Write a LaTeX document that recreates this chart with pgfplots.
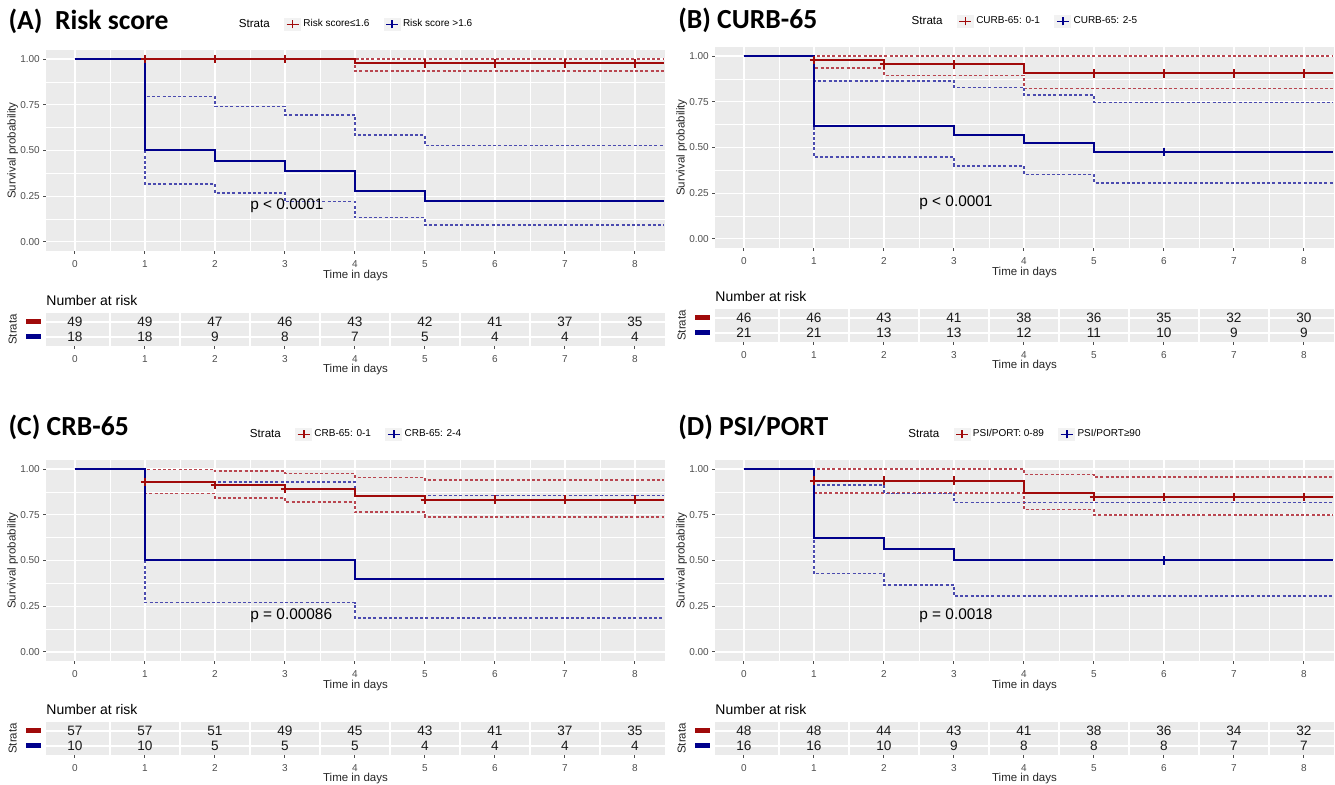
\documentclass[border=0pt]{standalone}
\usepackage{pgfplots}
\pgfplotsset{compat=1.18}
\usepackage{fontspec}
\setmainfont{Liberation Sans}
\newfontfamily\titlefam{Carlito}

\definecolor{ggbg}{RGB}{235,235,235}
\definecolor{keybg}{RGB}{242,242,242}
\definecolor{KMred}{RGB}{160,10,10}
\definecolor{KMblue}{RGB}{0,0,140}
\definecolor{CIred}{RGB}{185,70,80}
\definecolor{CIblue}{RGB}{75,75,175}
\definecolor{tickgray}{RGB}{77,77,77}

\tikzset{pval/.style={anchor=west, font=\fontsize{7.7}{9}\selectfont, inner sep=0pt}}

\pgfplotsset{
  ggbase/.style={
    scale only axis, width=309.5pt,
    xmin=-0.414, xmax=8.43,
    axis background/.style={fill=ggbg},
    axis line style={draw=none},
    tick pos=left, tick align=outside,
    major tick length=1.4pt, minor tick length=0pt,
    tick style={tickgray, line width=0.5pt},
    xtick={0,...,8},
    /pgf/number format/assume math mode=true,
    ticklabel style={font=\fontsize{5}{5.5}\selectfont, text=tickgray},
    label style={font=\fontsize{5.75}{7}\selectfont, text=black!85},
  },
  kmaxis/.style={ggbase, height=100.5pt, ymin=-0.05, ymax=1.05,
    ytick={0,0.25,0.5,0.75,1}, yticklabels={0.00,0.25,0.50,0.75,1.00},
    yticklabel style={xshift=1.8pt},
    minor xtick={0.5,1.5,...,7.5}, minor ytick={0.125,0.375,0.625,0.875},
    grid=both,
    major grid style={white, line width=0.65pt},
    minor grid style={white, line width=0.3pt},
    xlabel={Time in days}, ylabel={Survival probability},
    xlabel style={at={(axis description cs:0.5,-0.12)}, anchor=center},
    ylabel style={at={(axis description cs:-0.054,0.5)}, anchor=center},
    every axis title/.style={anchor=west, inner sep=0pt,
      font=\titlefam\bfseries\fontsize{13.8}{15}\selectfont},
    legend columns=-1,
    legend style={at={(0.5,1)}, anchor=center, yshift=12.75pt, draw=none, fill=none,
      font=\fontsize{5}{6}\selectfont,
      /tikz/every even column/.append style={column sep=6pt},
      nodes={inner xsep=1.2pt, inner ysep=0.5pt}},
  },
  tbaxis/.style={ggbase, height=16.5pt, ymin=0.4, ymax=2.6,
    ytick={1,2},
    yticklabels={\textcolor{KMblue}{\rule{7.5pt}{2.5pt}},\textcolor{KMred}{\rule{7.5pt}{2.5pt}}},
    ytick style={draw=none},
    yticklabel style={xshift=2.6pt},
    minor xtick={0.5,1.5,...,7.5},
    xminorgrids=true, ymajorgrids=true, xmajorgrids=false,
    major grid style={white, line width=0.65pt},
    minor grid style={white, line width=0.65pt},
    xlabel={Time in days}, ylabel={Strata},
    xlabel style={at={(axis description cs:0.5,-0.71)}, anchor=center},
    ylabel style={at={(axis description cs:-0.054,0.5)}, anchor=center},
    title={Number at risk},
    every axis title/.style={at={(axis description cs:0,1.39)}, anchor=west, inner sep=0pt,
      font=\fontsize{7}{8}\selectfont},
  },
  kmred/.style={KMred, const plot, line width=1pt, forget plot},
  kmblue/.style={KMblue, const plot, line width=1pt, forget plot},
  cired/.style={CIred, const plot, line width=0.8pt, dash pattern=on 1.5pt off 1.1pt, forget plot},
  ciblue/.style={CIblue, const plot, line width=0.8pt, dash pattern=on 1.5pt off 1.1pt, forget plot},
  cenred/.style={KMred, only marks, mark=+, mark size=2.1pt, mark options={line width=1pt}, forget plot},
  cenblue/.style={KMblue, only marks, mark=+, mark size=2.1pt, mark options={line width=1pt}, forget plot},
  legred/.style={legend image code/.code={
    \fill[keybg] (0pt,-3.2pt) rectangle (8pt,3.2pt);
    \draw[KMred, line width=0.9pt] (1pt,0pt) -- (7pt,0pt);
    \draw[KMred, line width=0.9pt] (4pt,-2pt) -- (4pt,2pt);}},
  legblue/.style={legend image code/.code={
    \fill[keybg] (0pt,-3.2pt) rectangle (8pt,3.2pt);
    \draw[KMblue, line width=0.9pt] (1pt,0pt) -- (7pt,0pt);
    \draw[KMblue, line width=0.9pt] (4pt,-2pt) -- (4pt,2pt);}},
  nrisk/.style={draw=none, mark=none, forget plot, nodes near coords, point meta=explicit symbolic,
    nodes near coords align=center,
    every node near coord/.append style={font=\fontsize{6.8}{7}\selectfont, text=black!90, inner sep=0pt}},
}

\begin{document}
\begin{tikzpicture}
\useasboundingbox (0,0) rectangle (667.5pt,392.5pt);

% ---------------- (A) Risk score ----------------
\begin{axis}[kmaxis, at={(23pt,367.5pt)}, anchor=north west,
  title={(A)\ \ Risk score},
  title style={at={(axis description cs:-0.061,1.144)}}]
\addlegendimage{empty legend}\addlegendentry{\fontsize{5.8}{7}\selectfont Strata}
\addlegendimage{legred}\addlegendentry{Risk score≤1.6}
\addlegendimage{legblue}\addlegendentry{Risk score >1.6}
\addplot[cired] coordinates {(0,1) (8.42,1)};
\addplot[cired] coordinates {(0,1) (4,0.934) (8.42,0.934)};
\addplot[ciblue] coordinates {(0,1) (1,0.796) (2,0.741) (3,0.694) (4,0.585) (5,0.528) (8.42,0.528)};
\addplot[ciblue] coordinates {(0,1) (1,0.317) (2,0.268) (3,0.220) (4,0.133) (5,0.093) (8.42,0.093)};
\addplot[kmred] coordinates {(0,1) (4,0.977) (8.42,0.977)};
\addplot[kmblue] coordinates {(0,1) (1,0.5) (2,0.444) (3,0.389) (4,0.278) (5,0.222) (8.42,0.222)};
\addplot[cenred] coordinates {(1,1) (2,1) (3,1) (5,0.977) (6,0.977) (7,0.977) (8,0.977)};
\node[pval] at (axis cs:2.5,0.195) {p < 0.0001};
\end{axis}

\begin{axis}[tbaxis, at={(23pt,236pt)}, anchor=north west]
\addplot[nrisk] coordinates {(0,2)[49] (1,2)[49] (2,2)[47] (3,2)[46] (4,2)[43] (5,2)[42] (6,2)[41] (7,2)[37] (8,2)[35]};
\addplot[nrisk] coordinates {(0,1)[18] (1,1)[18] (2,1)[9] (3,1)[8] (4,1)[7] (5,1)[5] (6,1)[4] (7,1)[4] (8,1)[4]};
\end{axis}

% ---------------- (B) CURB-65 ----------------
\begin{axis}[kmaxis, at={(357.5pt,369pt)}, anchor=north west,
  title={(B) CURB-65},
  title style={at={(axis description cs:-0.06,1.134)}}]
\addlegendimage{empty legend}\addlegendentry{\fontsize{5.8}{7}\selectfont Strata}
\addlegendimage{legred}\addlegendentry{CURB-65: 0-1}
\addlegendimage{legblue}\addlegendentry{CURB-65: 2-5}
\addplot[cired] coordinates {(0,1) (8.42,1)};
\addplot[cired] coordinates {(0,1) (1,0.936) (2,0.894) (4,0.823) (8.42,0.823)};
\addplot[ciblue] coordinates {(0,1) (1,0.865) (3,0.829) (4,0.787) (5,0.747) (8.42,0.747)};
\addplot[ciblue] coordinates {(0,1) (1,0.448) (3,0.399) (4,0.352) (5,0.306) (8.42,0.306)};
\addplot[kmred] coordinates {(0,1) (1,0.978) (2,0.955) (4,0.905) (8.42,0.905)};
\addplot[kmblue] coordinates {(0,1) (1,0.619) (3,0.571) (4,0.524) (5,0.476) (8.42,0.476)};
\addplot[cenred] coordinates {(1,0.978) (2,0.955) (3,0.955) (5,0.905) (6,0.905) (7,0.905) (8,0.905)};
\addplot[cenblue] coordinates {(6,0.476)};
\node[pval] at (axis cs:2.5,0.195) {p < 0.0001};
\end{axis}

\begin{axis}[tbaxis, at={(357.5pt,238pt)}, anchor=north west]
\addplot[nrisk] coordinates {(0,2)[46] (1,2)[46] (2,2)[43] (3,2)[41] (4,2)[38] (5,2)[36] (6,2)[35] (7,2)[32] (8,2)[30]};
\addplot[nrisk] coordinates {(0,1)[21] (1,1)[21] (2,1)[13] (3,1)[13] (4,1)[12] (5,1)[11] (6,1)[10] (7,1)[9] (8,1)[9]};
\end{axis}

% ---------------- (C) CRB-65 ----------------
\begin{axis}[kmaxis, at={(23pt,162.5pt)}, anchor=north west,
  title={(C) CRB-65},
  title style={at={(axis description cs:-0.061,1.16)}}]
\addlegendimage{empty legend}\addlegendentry{\fontsize{5.8}{7}\selectfont Strata}
\addlegendimage{legred}\addlegendentry{CRB-65: 0-1}
\addlegendimage{legblue}\addlegendentry{CRB-65: 2-4}
\addplot[cired] coordinates {(0,1) (1,0.998) (2,0.989) (3,0.976) (4,0.954) (5,0.941) (8.42,0.941)};
\addplot[cired] coordinates {(0,1) (1,0.867) (2,0.841) (3,0.819) (4,0.764) (5,0.739) (8.42,0.739)};
\addplot[ciblue] coordinates {(0,1) (1,0.930) (4,0.856) (8.42,0.856)};
\addplot[ciblue] coordinates {(0,1) (1,0.270) (4,0.186) (8.42,0.186)};
\addplot[kmred] coordinates {(0,1) (1,0.930) (2,0.912) (3,0.893) (4,0.853) (5,0.833) (8.42,0.833)};
\addplot[kmblue] coordinates {(0,1) (1,0.5) (4,0.4) (8.42,0.4)};
\addplot[cenred] coordinates {(1,0.930) (2,0.912) (3,0.893) (5,0.833) (6,0.833) (7,0.833) (8,0.833)};
\node[pval] at (axis cs:2.5,0.195) {p = 0.00086};
\end{axis}

\begin{axis}[tbaxis, at={(23pt,31.5pt)}, anchor=north west]
\addplot[nrisk] coordinates {(0,2)[57] (1,2)[57] (2,2)[51] (3,2)[49] (4,2)[45] (5,2)[43] (6,2)[41] (7,2)[37] (8,2)[35]};
\addplot[nrisk] coordinates {(0,1)[10] (1,1)[10] (2,1)[5] (3,1)[5] (4,1)[5] (5,1)[4] (6,1)[4] (7,1)[4] (8,1)[4]};
\end{axis}

% ---------------- (D) PSI/PORT ----------------
\begin{axis}[kmaxis, at={(357.5pt,162.5pt)}, anchor=north west,
  title={(D) PSI/PORT},
  title style={at={(axis description cs:-0.06,1.16)}}]
\addlegendimage{empty legend}\addlegendentry{\fontsize{5.8}{7}\selectfont Strata}
\addlegendimage{legred}\addlegendentry{PSI/PORT: 0-89}
\addlegendimage{legblue}\addlegendentry{PSI/PORT≥90}
\addplot[cired] coordinates {(0,1) (4,0.971) (5,0.958) (8.42,0.958)};
\addplot[cired] coordinates {(0,1) (1,0.870) (4,0.779) (5,0.748) (8.42,0.748)};
\addplot[ciblue] coordinates {(0,1) (1,0.914) (2,0.867) (3,0.817) (8.42,0.817)};
\addplot[ciblue] coordinates {(0,1) (1,0.428) (2,0.367) (3,0.305) (8.42,0.305)};
\addplot[kmred] coordinates {(0,1) (1,0.9375) (4,0.869) (5,0.846) (8.42,0.846)};
\addplot[kmblue] coordinates {(0,1) (1,0.625) (2,0.5625) (3,0.5) (8.42,0.5)};
\addplot[cenred] coordinates {(1,0.9375) (2,0.9375) (3,0.9375) (5,0.846) (6,0.846) (7,0.846) (8,0.846)};
\addplot[cenblue] coordinates {(6,0.5)};
\node[pval] at (axis cs:2.5,0.195) {p = 0.0018};
\end{axis}

\begin{axis}[tbaxis, at={(357.5pt,31.5pt)}, anchor=north west]
\addplot[nrisk] coordinates {(0,2)[48] (1,2)[48] (2,2)[44] (3,2)[43] (4,2)[41] (5,2)[38] (6,2)[36] (7,2)[34] (8,2)[32]};
\addplot[nrisk] coordinates {(0,1)[16] (1,1)[16] (2,1)[10] (3,1)[9] (4,1)[8] (5,1)[8] (6,1)[8] (7,1)[7] (8,1)[7]};
\end{axis}
\end{tikzpicture}
\end{document}
